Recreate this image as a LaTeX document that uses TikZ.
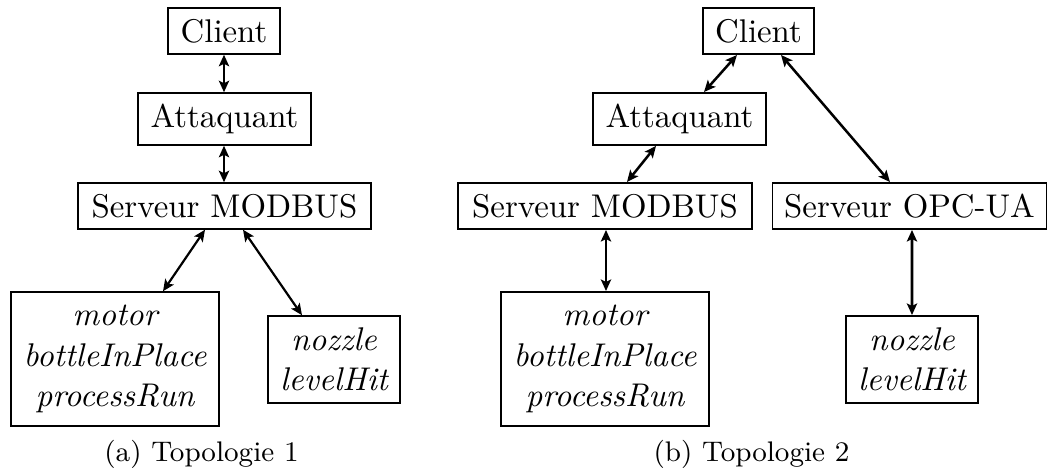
\documentclass[tikz,border=0pt]{standalone}
\usetikzlibrary{arrows.meta,calc}
\begin{document}
\begin{tikzpicture}[x=0.3106pt,y=-0.3106pt,
  box/.style={draw,line width=0.45pt,inner sep=0pt,font=\fontsize{10.2}{12.6}\selectfont,align=center},
  boxb/.style={box,line width=0.6pt},
  sz/.style 2 args={minimum width=#1*0.3106pt,minimum height=#2*0.3106pt},
  link/.style={{Stealth[length=3.6pt,width=3.2pt,inset=0.8pt]}-{Stealth[length=3.6pt,width=3.2pt,inset=0.8pt]},line width=0.68pt},
  linkb/.style={link,line width=0.78pt},
  captext/.style={font=\fontsize{8.8}{10}\selectfont,inner sep=0pt}]
\useasboundingbox (0,0) rectangle (1048,472);
% ---- (a) ----
\node[box,sz={112}{46}] (cl1) at (224,31) {Client};
\node[box,sz={173}{52}] (at1) at (224.5,119) {Attaquant};
\node[box,sz={293}{46}] (mb1) at (224.5,206) {Serveur MODBUS};
\node[box,sz={208}{134}] (mo1) at (115,359) {\itshape motor\\\itshape bottleInPlace\\\itshape processRun};
\node[box,sz={132}{87}] (no1) at (334,359.5) {\itshape nozzle\\\itshape levelHit};
\node[captext] (ca) at (201.5,454) {(a) Topologie 1};
\draw[link] (cl1.south) -- (cl1.south |- at1.north);
\draw[link] (at1.south -| cl1.south) -- (mb1.north -| cl1.south);
\draw[link] ($(mb1.south)+(-19.5,0)$) -- ($(mo1.north)+(48,0)$);
\draw[link] ($(mb1.south)+(18.5,0)$) -- ($(no1.north)+(-32,0)$);
% ---- (b) ----
\node[boxb,sz={111}{46}] (cl2) at (758.5,31) {Client};
\node[boxb,sz={173}{52}] (at2) at (679.5,119) {Attaquant};
\node[boxb,sz={294}{46}] (mb2) at (605,206) {Serveur MODBUS};
\node[boxb,sz={274}{46}] (op2) at (909.5,206) {Serveur OPC-UA};
\node[boxb,sz={208}{134}] (mo2) at (605,359) {\itshape motor\\\itshape bottleInPlace\\\itshape processRun};
\node[boxb,sz={132}{87}] (no2) at (912,359.5) {\itshape nozzle\\\itshape levelHit};
\node[captext] (cb) at (751.5,454) {(b) Topologie 2};
\draw[linkb] ($(cl2.south)+(-21.5,0)$) -- ($(at2.north)+(24.5,0)$);
\draw[linkb] ($(at2.south)+(-23.5,0)$) -- ($(mb2.north)+(22,0)$);
\draw[linkb] ($(cl2.south)+(22.5,0)$) -- ($(op2.north)+(-19.5,0)$);
\draw[linkb] ($(mb2.south)+(1,0)$) -- ($(mo2.north)+(1,0)$);
\draw[linkb] ($(op2.south)+(2.5,0)$) -- (no2.north);
\end{tikzpicture}
\end{document}
